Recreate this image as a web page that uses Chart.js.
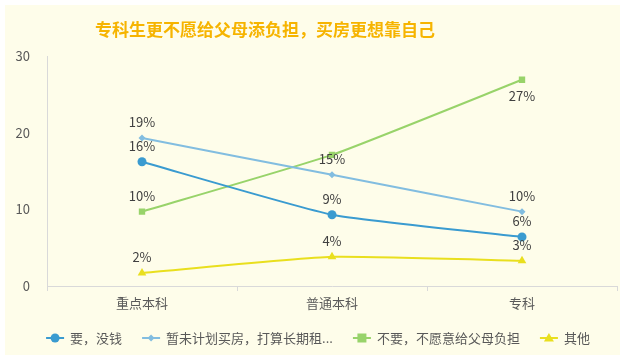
<!DOCTYPE html>
<html>
<head>
<meta charset="utf-8">
<script src="https://cdn.jsdelivr.net/npm/chart.js@4/dist/chart.umd.min.js"></script>
<style>
html,body{margin:0;padding:0;background:#ffffff;}
#wrap{width:627px;height:363px;position:relative;}
</style>
</head>
<body>
<div id="wrap"><canvas id="c" width="627" height="363"></canvas></div>
<script>
const titleText = '专科生更不愿给父母添负担，买房更想靠自己';
const categories = ['重点本科', '普通本科', '专科'];
const seriesNames = ['要，没钱', '暂未计划买房，打算长期租...', '不要，不愿意给父母负担', '其他'];
const noMoney = [16.2, 9.3, 6.4];
const rentLongTerm = [19.3, 14.5, 9.7];
const notBurdenParents = [9.7, 17.1, 26.9];
const others = [1.7, 3.8, 3.3];
// label placement per point: 'a' above, 'b' below, null hidden
const labelPos = [
  ['a', 'a', 'a'],
  ['a', 'a', 'a'],
  ['a', null, 'b'],
  ['a', 'a', 'a']
];
const yTicks = [0, 10, 20, 30];

const colors = ['#3a9bd0', '#82bde0', '#98d36a', '#e9df1e'];
const styles = ['circle', 'rectRot', 'rect', 'triangle'];
const radii = [4.5, 3.5, 4.5, 5];
const FONT = '"Noto Sans CJK SC", "Noto Sans", sans-serif';

const bgPlugin = {
  id: 'bg',
  beforeDraw(chart) {
    const ctx = chart.ctx;
    ctx.save();
    ctx.fillStyle = '#ffffff';
    ctx.fillRect(0, 0, chart.width, chart.height);
    ctx.fillStyle = '#fefdea';
    ctx.fillRect(5, 5, 615, 350);
    ctx.fillStyle = '#f6b400';
    ctx.font = 'bold 17px ' + FONT;
    ctx.textAlign = 'center';
    ctx.textBaseline = 'middle';
    ctx.fillText(titleText, 265, 30);
    ctx.restore();
  }
};

const labelPlugin = {
  id: 'pointLabels',
  afterDatasetsDraw(chart) {
    const ctx = chart.ctx;
    ctx.save();
    ctx.font = '13px ' + FONT;
    ctx.fillStyle = '#404040';
    ctx.textAlign = 'center';
    ctx.textBaseline = 'middle';
    chart.data.datasets.forEach((ds, i) => {
      const meta = chart.getDatasetMeta(i);
      meta.data.forEach((pt, j) => {
        const pos = labelPos[i][j];
        if (!pos) return;
        const txt = Math.round(ds.data[j]) + '%';
        const y = pos === 'a' ? pt.y - 16 : pt.y + 16;
        ctx.fillText(txt, pt.x, y);
      });
    });
    ctx.restore();
  }
};

const legendPlugin = {
  id: 'customLegend',
  afterDraw(chart) {
    const ctx = chart.ctx;
    ctx.save();
    ctx.font = '13px ' + FONT;
    ctx.textBaseline = 'middle';
    const markerW = 18, gapMT = 6, gapItems = 20;
    const widths = seriesNames.map(n => markerW + gapMT + ctx.measureText(n).width);
    const total = widths.reduce((a, b) => a + b, 0) + gapItems * (seriesNames.length - 1);
    let x = 318 - total / 2;
    const y = 338;
    seriesNames.forEach((n, i) => {
      ctx.strokeStyle = colors[i];
      ctx.lineWidth = 2;
      ctx.beginPath();
      ctx.moveTo(x, y);
      ctx.lineTo(x + markerW, y);
      ctx.stroke();
      ctx.fillStyle = colors[i];
      const cx = x + markerW / 2;
      const r = radii[i];
      ctx.beginPath();
      if (styles[i] === 'circle') {
        ctx.arc(cx, y, r, 0, Math.PI * 2);
      } else if (styles[i] === 'rectRot') {
        ctx.moveTo(cx, y - r); ctx.lineTo(cx + r, y); ctx.lineTo(cx, y + r); ctx.lineTo(cx - r, y); ctx.closePath();
      } else if (styles[i] === 'rect') {
        ctx.rect(cx - r, y - r, 2 * r, 2 * r);
      } else {
        ctx.moveTo(cx, y - r); ctx.lineTo(cx + r, y + r * 0.7); ctx.lineTo(cx - r, y + r * 0.7); ctx.closePath();
      }
      ctx.fill();
      ctx.fillStyle = '#595959';
      ctx.textAlign = 'left';
      ctx.fillText(n, x + markerW + gapMT, y);
      x += widths[i] + gapItems;
    });
    ctx.restore();
  }
};

const seriesData = [noMoney, rentLongTerm, notBurdenParents, others];

new Chart(document.getElementById('c'), {
  type: 'line',
  data: {
    labels: categories,
    datasets: seriesData.map((d, i) => ({
      label: seriesNames[i],
      data: d,
      borderColor: colors[i],
      backgroundColor: colors[i],
      borderWidth: 2,
      pointStyle: styles[i],
      pointRadius: radii[i],
      pointHoverRadius: radii[i],
      pointBorderWidth: 0,
      tension: 0.15,
      fill: false
    }))
  },
  options: {
    responsive: false,
    animation: false,
    devicePixelRatio: 1,
    layout: { padding: { top: 56, right: 10, left: 0, bottom: 0 } },
    plugins: {
      legend: { display: false },
      title: { display: false },
      tooltip: { enabled: false }
    },
    scales: {
      x: {
        offset: true,
        grid: { display: true, drawOnChartArea: false, offset: true, color: '#d9d9d9', tickLength: 5 },
        border: { display: true, color: '#d9d9d9', width: 1 },
        ticks: { color: '#595959', font: { size: 13, family: FONT }, padding: 4 },
        afterFit(s) { s.height = 77; }
      },
      y: {
        min: 0, max: 30,
        afterBuildTicks(s) { s.ticks = yTicks.map(v => ({ value: v })); },
        grid: { display: false, drawTicks: false },
        border: { display: true, color: '#d9d9d9', width: 1 },
        ticks: { color: '#595959', font: { size: 13, family: FONT }, padding: 17 },
        afterFit(s) { s.width = 47; }
      }
    }
  },
  plugins: [bgPlugin, labelPlugin, legendPlugin]
});
</script>
</body>
</html>
